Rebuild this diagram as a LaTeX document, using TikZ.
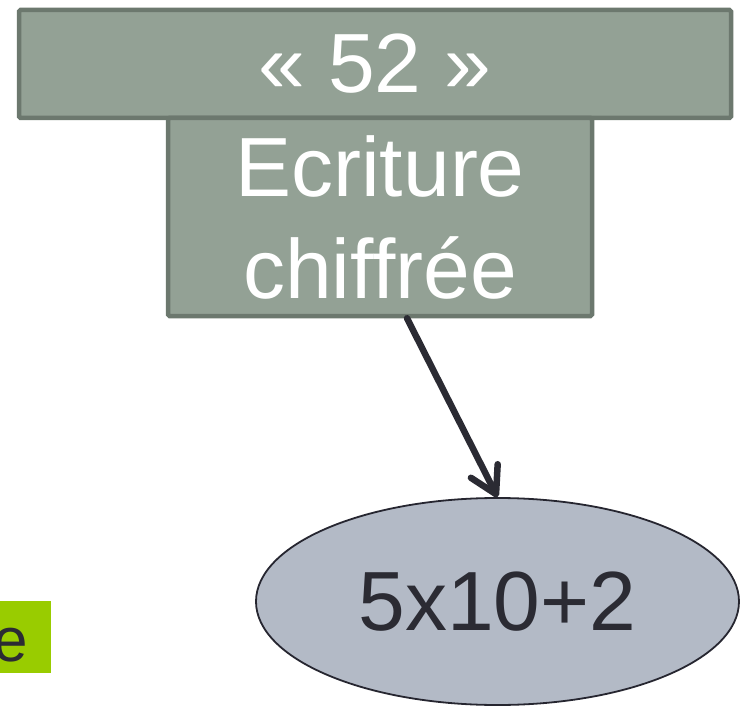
\documentclass[tikz,border=0pt]{standalone}
\usepackage{fontspec}
\setmainfont{Liberation Sans}
\usetikzlibrary{arrows.meta,shapes.geometric}
\definecolor{boxfill}{HTML}{93A195}
\definecolor{boxline}{HTML}{6C786E}
\definecolor{ellfill}{HTML}{B3BAC6}
\definecolor{ellline}{HTML}{262630}
\definecolor{darktext}{HTML}{2B2B33}
\definecolor{greenfill}{HTML}{99CC00}
\tikzset{
  greybox/.style={draw=boxline, fill=boxfill, line width=4.5pt, rounded corners=1.5pt,
    inner sep=0pt, text=white, font=\fontsize{84}{102}\selectfont, align=center},
  bubble/.style={ellipse, draw=ellline, fill=ellfill, line width=1.8pt, inner sep=0pt,
    text=darktext, font=\fontsize{84}{102}\selectfont},
  tag/.style={fill=greenfill, inner sep=0pt},
  link/.style={draw=darktext, line width=6.5pt, line cap=round,
    -{Straight Barb[length=26pt, width=30pt, line cap=round, line join=round]}}
}
\begin{document}
\begin{tikzpicture}[x=1pt, y=-1pt]
\clip (0,0) rectangle (750,714);
\fill[white] (0,0) rectangle (750,714);
\node[greybox, minimum width=712pt, minimum height=108pt] (top) at (375,64) {« 52 »};
\node[greybox, minimum width=424pt, minimum height=198pt] (ecr) at (380,217) {Ecriture\\chiffrée};
\node[bubble, minimum width=483pt, minimum height=207pt] (ell) at (497.5,601.5) {5x10+2};
\node[tag, minimum width=51pt, minimum height=72pt] (green) at (25.5,637) {};
\node[text=darktext, font=\fontsize{62}{70}\selectfont, anchor=base, inner sep=0pt] (etext) at (10.5,661) {e};
\draw[link] ([xshift=27pt]ecr.south) -- (ell.north);
\end{tikzpicture}
\end{document}
